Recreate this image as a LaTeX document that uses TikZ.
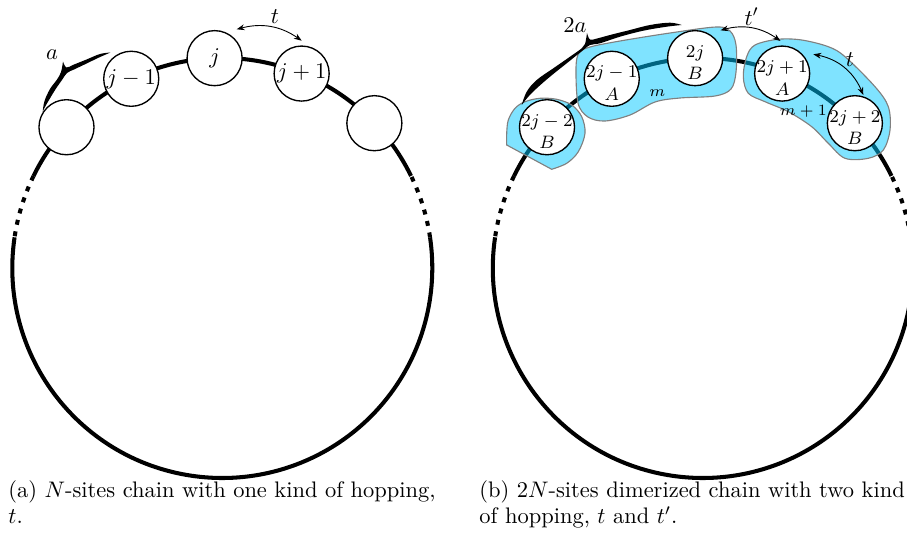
\documentclass[tikz,border=0pt]{standalone}
\usetikzlibrary{arrows.meta,calc}
\definecolor{blobfill}{RGB}{0,200,255}
\begin{document}
\begin{tikzpicture}[x=0.445pt,y=0.445pt,
  chain/.style={line width=1.8pt},
  chaindash/.style={line width=1.8pt, dash pattern=on 2.2pt off 3pt},
  site/.style={circle, draw, fill=white, line width=0.6pt, minimum size=24.5pt, inner sep=0pt},
  sitetext/.style={inner sep=0pt, font=\footnotesize},
  blob/.style={fill=blobfill, fill opacity=0.5, draw=black!50, line width=0.5pt},
  hop/.style={line width=0.4pt, {Stealth[length=3.5pt,width=2.6pt]}-{Stealth[length=3.5pt,width=2.6pt]}},
  bracefill/.style={fill=black},
  lab/.style={inner sep=0pt},
  captext/.style={anchor=base west, inner sep=0pt},
]
\useasboundingbox (0,0) rectangle (907,540);
\def\R{93.45pt}
\coordinate (cL) at (222.3,272);
\coordinate (cR) at (702.8,272);
% chains
\foreach \c in {cL,cR}{
  \draw[chain] ($(\c)+(26:\R)$) arc[start angle=26, end angle=154, radius=\R];
  \draw[chaindash] ($(\c)+(154:\R)$) arc[start angle=154, end angle=171.6, radius=\R];
  \draw[chain] ($(\c)+(171.6:\R)$) arc[start angle=171.6, end angle=368.4, radius=\R];
  \draw[chaindash] ($(\c)+(8.4:\R)$) arc[start angle=8.4, end angle=26, radius=\R];
}
% blobs
\filldraw[blob] plot[smooth cycle, tension=0.55] coordinates {
  (576,472) (579,487) (590,493) (620,499) (670,507) (716,513) (730,509) (736,495)
  (736,468) (731,451) (715,444) (680,442) (655,438) (630,425) (605,419) (588,423) (578,437)};
\filldraw[blob] plot[smooth cycle, tension=0.55] coordinates {
  (755,495) (778,500.7) (801.7,500) (828.3,493.3) (845,483.3) (875,453.3) (888.3,433.3)
  (890,410) (883.3,390) (868.3,381.7) (845,381.7) (828.3,396.7) (811.7,413.3) (788.3,428.3)
  (765,438.3) (748.3,446.7) (743.3,463.3) (746.7,483.3)};
\filldraw[blob] plot[smooth, tension=0.55] coordinates {
  (551.7,370.7) (566.7,376.7) (578.3,388.3) (585,406.7) (581.7,423.3) (571.7,435)
  (556.7,440.7) (540,441.7) (525,438.3) (515,431.7) (508.3,420) (506.7,406.7) (506.7,395)} -- cycle;
% left sites
\node[site] (L1) at ($(cL)+(137.9:\R)$) {};
\node[site] (L2) at ($(cL)+(115.7:\R)$) {$j-1$};
\node[site] (L3) at ($(cL)+(92.1:\R)$) {$j$};
\node[site] (L4) at ($(cL)+(67.8:\R)$) {$j+1$};
\node[site] (L5) at ($(cL)+(43.6:\R)$) {};
% right sites
\node[site] (R1) at ($(cR)+(137.9:\R)$) {};
\node[site] (R2) at ($(cR)+(115.7:\R)$) {};
\node[site] (R3) at ($(cR)+(92.1:\R)$) {};
\node[site] (R4) at ($(cR)+(67.8:\R)$) {};
\node[site] (R5) at ($(cR)+(43.6:\R)$) {};
\node[sitetext] (R1t) at ([yshift=-2pt]R1.center) {\shortstack{$2j-2$\\$B$}};
\node[sitetext] (R2t) at ([yshift=-2pt]R2.center) {\shortstack{$2j-1$\\$A$}};
\node[sitetext] (R3t) at ([yshift=-2pt]R3.center) {\shortstack{$2j$\\$B$}};
\node[sitetext] (R4t) at ([yshift=-2pt]R4.center) {\shortstack{$2j+1$\\$A$}};
\node[sitetext] (R5t) at ([yshift=-2pt]R5.center) {\shortstack{$2j+2$\\$B$}};
% brace a (left)
\fill[bracefill] plot[smooth, tension=0.6] coordinates {
  (42.7,428.3) (44.5,439) (50,451) (57,460.5) (61,468) (63,478.5)}
  -- plot[smooth, tension=0.6] coordinates {
  (63,478.5) (66.5,472.5) (74,475.5) (87,480.7) (100,486) (110.5,487.5)}
  -- plot[smooth, tension=0.6] coordinates {
  (110.5,487.5) (99,482.5) (86,476.2) (74,470.5) (67,467) (62,460) (56,451.5)
  (50.5,442.5) (45.5,434) (42.7,428.3)} -- cycle;
\node[lab] (aLt) at (52,485) {$a$};
% brace 2a (right)
\fill[bracefill] plot[smooth, tension=0.6] coordinates {
  (521.7,435) (526.7,448.3) (536.7,460) (553.3,471.7) (570,483.3) (581.7,491.7) (585,496) (587,507)}
  -- plot[smooth, tension=0.6] coordinates {
  (587,507) (590,500.5) (597,501.5) (610,505) (630,510) (650,515) (670,517.3) (681.7,515)}
  -- plot[smooth, tension=0.6] coordinates {
  (681.7,515) (666.7,513.3) (643.3,509.3) (620,503.3) (600,496.7) (590,495) (583.3,490)
  (566.7,476.7) (550,463.3) (536.7,451.7) (528.3,443.3) (521.7,435)} -- cycle;
\node[lab] (aRt) at (575,515) {$2a$};
% hoppings
\coordinate (tLa) at (236.7,510.7);
\coordinate (tLb) at (301.7,499.3);
\draw[hop] (tLa) to[bend left=25] (tLb);
\node[lab] (tLt) at (275,523.3) {$t$};
\coordinate (tRa) at (720.5,509.7);
\coordinate (tRb) at (780.5,499);
\draw[hop] (tRa) to[bend left=25] (tRb);
\node[lab] (tRt) at (751.7,523.3) {$t'$};
\coordinate (tRc) at (813.3,485.7);
\coordinate (tRd) at (863.3,445);
\draw[hop] (tRc) to[bend left=28] (tRd);
\node[lab] (tRt2) at (850,480) {$t$};
% cell labels
\node[lab, font=\scriptsize] (m1) at (657.3,447.3) {$m$};
\node[lab, font=\scriptsize] (m2) at (803.3,428.3) {$m+1$};
% captions
\node[captext] (capa1) at (8,43) {(a) $N$-sites chain with one kind of hopping,};
\node[captext] (capa2) at (8,16.5) {$t$.};
\node[captext] (capb1) at (479,43) {(b) $2N$-sites dimerized chain with two kind};
\node[captext] (capb2) at (479,16.5) {of hopping, $t$ and $t'$.};
\end{tikzpicture}
\end{document}
